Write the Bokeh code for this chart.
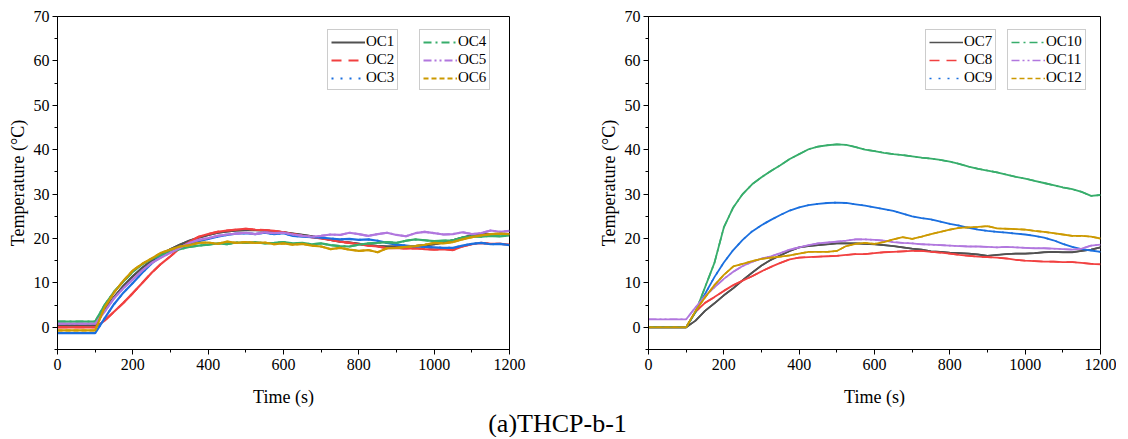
from bokeh.plotting import figure
from bokeh.models import FixedTicker, Legend, LegendItem, Range1d, Label
from bokeh.layouts import row, column
from bokeh.embed import file_html
from bokeh.resources import INLINE

time_s = [0, 100, 125, 150, 175, 200, 225, 250, 275, 300,
          325, 350, 375, 400, 425, 450, 475, 500, 525, 550,
          575, 600, 625, 650, 675, 700, 725, 750, 775, 800,
          825, 850, 875, 900, 925, 950, 975, 1000, 1025, 1050,
          1075, 1100, 1125, 1150, 1175, 1200]

oc1 = [0.4, 0.4, 4.0, 6.8, 9.3, 11.5, 13.4, 15.0, 16.4, 17.6,
       18.6, 19.5, 20.2, 20.8, 21.3, 21.6, 21.8, 21.9, 21.9, 21.8,
       21.6, 21.4, 21.1, 20.8, 20.5, 20.1, 19.7, 19.3, 19.1, 18.8,
       18.5, 18.3, 18.2, 18.2, 18.3, 18.3, 18.5, 18.7, 19.1, 19.6,
       20.2, 20.7, 21.0, 21.0, 21.0, 21.0]
oc2 = [0, 0, 1.5, 3.5, 5.5, 7.7, 10.0, 12.3, 14.3, 16.0,
       17.8, 19.2, 20.4, 21.0, 21.5, 21.8, 22.0, 22.2, 22.0, 21.9,
       21.7, 21.4, 21.0, 20.6, 20.3, 20.0, 19.7, 19.3, 19.0, 18.7,
       18.4, 18.2, 17.8, 17.9, 17.7, 17.8, 17.6, 17.5, 17.6, 17.4,
       18.2, 18.7, 19.0, 18.8, 18.8, 18.6]
oc3 = [-1.3, -1.3, 2.0, 5.2, 7.8, 10.0, 12.3, 14.4, 16.0, 17.2,
       18.1, 18.8, 19.4, 19.9, 20.4, 20.8, 21.1, 21.2, 21.0, 21.3,
       21.0, 21.2, 20.6, 20.4, 20.3, 20.2, 20.0, 19.8, 19.9, 19.7,
       19.8, 19.5, 19.0, 18.6, 18.4, 18.2, 18.1, 18.0, 17.9, 17.9,
       18.4, 18.8, 19.0, 18.7, 18.8, 18.5]
oc4 = [1.3, 1.3, 5.0, 8.0, 10.3, 12.5, 14.2, 15.4, 16.3, 17.0,
       17.6, 18.1, 18.4, 18.6, 18.9, 18.7, 19.1, 19.0, 19.2, 18.9,
       19.0, 19.2, 18.9, 19.0, 18.7, 18.9, 18.5, 18.3, 18.2, 18.6,
       18.9, 19.0, 19.2, 19.0, 19.5, 19.8, 19.6, 19.4, 19.5, 19.6,
       20.2, 20.5, 20.4, 20.6, 20.5, 20.7]
oc5 = [0.8, 0.8, 3.5, 6.5, 8.8, 10.8, 12.8, 14.5, 15.7, 16.8,
       17.9, 19.0, 19.7, 20.1, 20.6, 20.9, 21.1, 21.3, 21.0, 21.4,
       21.2, 21.3, 20.9, 20.6, 20.4, 20.6, 20.9, 20.8, 21.3, 21.0,
       20.6, 21.0, 21.3, 20.8, 20.5, 21.2, 21.5, 21.2, 20.9, 21.0,
       21.4, 21.0, 21.2, 21.8, 21.5, 21.7]
oc6 = [-0.7, -0.7, 4.5, 7.8, 10.5, 12.8, 14.3, 15.5, 16.8, 17.5,
       18.2, 18.5, 19.0, 19.1, 18.8, 19.3, 19.0, 19.2, 19.0, 19.1,
       18.7, 18.9, 18.6, 18.8, 18.4, 18.2, 17.6, 17.9, 17.5, 17.2,
       17.4, 16.9, 17.8, 17.9, 18.1, 18.3, 18.6, 19.0, 18.9, 19.2,
       19.8, 20.3, 20.7, 21.0, 21.1, 21.0]

oc7 = [0, 0, 1.5, 3.7, 5.4, 7.2, 8.8, 10.6, 12.3, 13.9,
       15.2, 16.2, 17.2, 18.0, 18.3, 18.5, 18.7, 18.9, 18.9, 18.9,
       18.8, 18.7, 18.5, 18.3, 18.0, 17.7, 17.5, 17.1, 17.0, 16.8,
       16.7, 16.6, 16.4, 16.1, 16.3, 16.5, 16.6, 16.6, 16.7, 16.9,
       17.0, 16.9, 16.9, 17.2, 17.5, 18.0]
oc8 = [0, 0, 3.5, 5.5, 6.8, 8.2, 9.5, 10.5, 11.5, 12.6,
       13.6, 14.5, 15.3, 15.7, 15.8, 15.9, 16.0, 16.1, 16.3, 16.5,
       16.5, 16.7, 16.9, 17.0, 17.1, 17.2, 17.2, 17.0, 16.8, 16.6,
       16.3, 16.1, 15.9, 15.8, 15.7, 15.5, 15.2, 15.0, 14.9, 14.8,
       14.8, 14.7, 14.7, 14.5, 14.3, 14.2]
oc9 = [0, 0, 3.5, 7.5, 11.3, 14.6, 17.4, 19.7, 21.6, 23.0,
       24.2, 25.3, 26.3, 27.0, 27.5, 27.8, 28.0, 28.1, 28.0, 27.7,
       27.4, 27.0, 26.6, 26.2, 25.6, 25.0, 24.6, 24.3, 23.8, 23.3,
       22.9, 22.4, 22.0, 21.7, 21.5, 21.3, 21.1, 20.9, 20.6, 20.2,
       19.6, 18.8, 18.1, 17.6, 17.3, 17.0]
oc10 = [0, 0, 3.5, 9.0, 14.5, 22.5, 27.0, 30.0, 32.2, 33.8,
        35.2, 36.5, 37.9, 39.0, 40.1, 40.7, 41.0, 41.2, 41.1, 40.6,
        40.0, 39.7, 39.3, 39.0, 38.8, 38.5, 38.2, 38.0, 37.7, 37.3,
        36.8, 36.2, 35.7, 35.3, 34.9, 34.4, 33.9, 33.5, 33.0, 32.5,
        32.0, 31.5, 31.1, 30.5, 29.6, 29.8]
oc11 = [1.8, 1.8, 4.5, 7.0, 9.0, 10.9, 12.5, 13.8, 14.7, 15.5,
        16.0, 16.7, 17.5, 18.0, 18.5, 18.9, 19.1, 19.3, 19.5, 19.8,
        19.8, 19.7, 19.5, 19.2, 19.0, 18.9, 18.7, 18.6, 18.5, 18.4,
        18.3, 18.2, 18.2, 18.1, 18.0, 18.1, 18.0, 17.9, 17.8, 17.8,
        17.7, 17.6, 17.5, 17.7, 18.4, 18.6]
oc12 = [0, 0, 3.7, 6.7, 9.5, 11.8, 13.7, 14.3, 14.9, 15.4,
        15.7, 15.9, 16.2, 16.6, 17.0, 17.0, 17.0, 17.2, 18.3, 18.8,
        19.0, 18.8, 19.2, 19.8, 20.3, 19.9, 20.4, 21.0, 21.5, 22.0,
        22.4, 22.5, 22.6, 22.8, 22.3, 22.2, 22.1, 22.0, 21.7, 21.5,
        21.2, 20.9, 20.6, 20.6, 20.4, 20.0]

left_names = ["OC1", "OC2", "OC3", "OC4", "OC5", "OC6"]
right_names = ["OC7", "OC8", "OC9", "OC10", "OC11", "OC12"]
left_series = [oc1, oc2, oc3, oc4, oc5, oc6]
right_series = [oc7, oc8, oc9, oc10, oc11, oc12]

colors = ["#515151", "#F14040", "#1A6FDF", "#37AD6B", "#B177DE", "#CC9900"]
dashes = ["solid", "10 7", "2 7", "8 4 2 4", "8 3 2 3 2 3", "5 3"]

x_ticks = [0, 200, 400, 600, 800, 1000, 1200]
x_minor = [100, 300, 500, 700, 900, 1100]
y_ticks = [0, 10, 20, 30, 40, 50, 60, 70]
y_minor = [-5, 5, 15, 25, 35, 45, 55, 65]

FONT = "Liberation Serif"


def make_panel(names, series, lw, border_left, border_right, leg_x1, leg_x2):
    p = figure(output_backend="svg", toolbar_location=None,
               frame_width=452, frame_height=333,
               min_border_left=border_left, min_border_right=border_right,
               min_border_top=16, min_border_bottom=64,
               x_range=Range1d(0, 1200), y_range=Range1d(-5, 70))
    p.background_fill_color = "white"
    p.border_fill_color = "white"
    p.outline_line_color = "black"
    p.outline_line_width = 1
    p.outline_line_alpha = 1
    p.xgrid.visible = False
    p.ygrid.visible = False
    p.xaxis.ticker = FixedTicker(ticks=x_ticks, minor_ticks=x_minor)
    p.yaxis.ticker = FixedTicker(ticks=y_ticks, minor_ticks=y_minor)
    p.xaxis.axis_label = "Time (s)"
    p.yaxis.axis_label = "Temperature (\u00b0C)"
    for ax in (p.xaxis[0], p.yaxis[0]):
        ax.axis_label_text_font = FONT
        ax.axis_label_text_font_style = "normal"
        ax.axis_label_text_font_size = "18px"
        ax.axis_label_text_color = "black"
        ax.major_label_text_font = FONT
        ax.major_label_text_font_size = "16px"
        ax.major_label_text_color = "black"
        ax.axis_line_color = "black"
        ax.major_tick_line_color = "black"
        ax.minor_tick_line_color = "black"
        ax.major_tick_out = 5
        ax.major_tick_in = 0
        ax.minor_tick_out = 3
        ax.minor_tick_in = 0
    p.xaxis.axis_label_standoff = 14
    p.yaxis.axis_label_standoff = 3
    p.xaxis.major_label_standoff = 4
    p.yaxis.major_label_standoff = 3

    items = []
    for ys, name, c, d in zip(series, names, colors, dashes):
        # dashed copy (supplies the legend sample), hidden under the solid trace
        r = p.line(time_s, ys, line_color=c, line_width=lw - 0.2, line_dash=d)
        p.line(time_s, ys, line_color=c, line_width=lw)
        items.append(LegendItem(label=name, renderers=[r]))

    for grp, lx in ((items[:3], leg_x1), (items[3:], leg_x2)):
        leg = Legend(items=grp, location=(lx, 259), orientation="vertical",
                     glyph_width=34, glyph_height=16, label_height=16,
                     label_standoff=1, spacing=1, padding=3, margin=0,
                     label_text_font=FONT, label_text_font_size="15px",
                     label_text_color="black",
                     border_line_color="#999999", border_line_width=1,
                     background_fill_color="white", background_fill_alpha=1)
        p.add_layout(leg, "center")
    return p


p1 = make_panel(left_names, left_series, 2.2, 57, 85, 270, 362)
p2 = make_panel(right_names, right_series, 1.8, 54, 16, 277, 359)

pt = figure(output_backend="svg", toolbar_location=None, width=1112, height=34,
            min_border=0, x_range=Range1d(0, 1), y_range=Range1d(0, 1))
pt.axis.visible = False
pt.grid.visible = False
pt.outline_line_color = None
pt.background_fill_alpha = 0
pt.border_fill_alpha = 0
pt.margin = (-10, 0, 0, 0)
pt.add_layout(Label(x=557, y=14, x_units="screen", y_units="screen",
                    text="(a)THCP-b-1", text_align="center", text_baseline="middle",
                    text_font=FONT, text_font_size="26px", text_color="black"))

layout = column(row(p1, p2), pt)
open("out.html", "w").write(file_html(layout, INLINE))
